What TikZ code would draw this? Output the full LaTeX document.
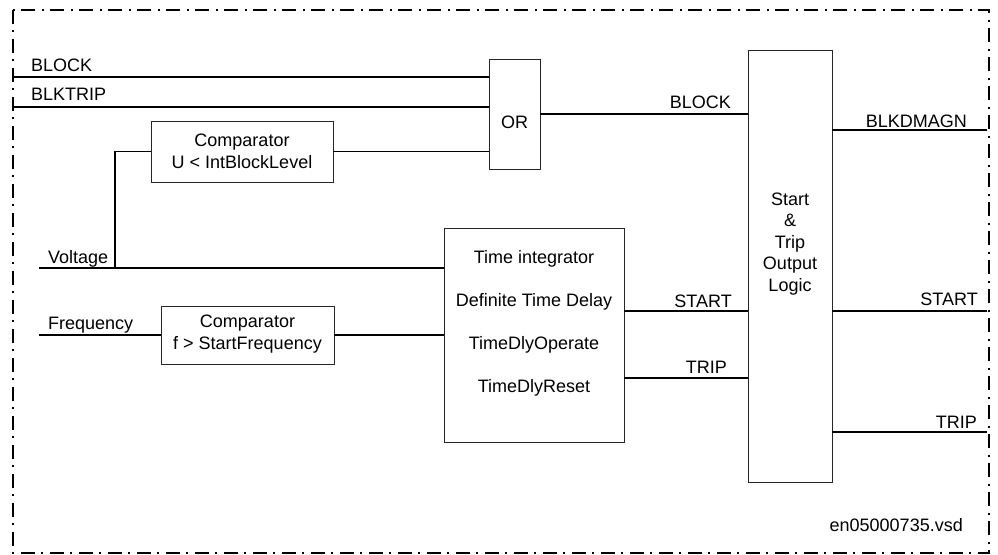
\documentclass[tikz,border=0pt]{standalone}
\usepackage{fontspec}
\setmainfont{Liberation Sans}
\usetikzlibrary{positioning}

\begin{document}
\begin{tikzpicture}[x=1pt, y=-1pt,
    every node/.style={font=\fontsize{18}{22}\selectfont, inner sep=0pt},
    blockbox/.style={draw=black!85, line width=0.9pt},
    signal/.style={line width=1.4pt},
    frameline/.style={line width=2.5pt, dash pattern=on 14pt off 6pt on 2pt off 7pt}]
    \useasboundingbox (0,0) rectangle (998,554);

    % Frame
    \draw[frameline] (13,10) rectangle (989,553);

    % Blocks
    \node[blockbox, minimum width=51pt, minimum height=110pt] (or) at (514.5,114) {};
    \node[blockbox, minimum width=182pt, minimum height=61pt] (cmpu) at (242,151.5) {};
    \node[blockbox, minimum width=173pt, minimum height=58pt] (cmpf) at (247.5,335) {};
    \node[blockbox, minimum width=180pt, minimum height=214pt] (tint) at (534,335) {};
    \node[blockbox, minimum width=84pt, minimum height=432pt] (logic) at (790,266) {};

    % Block texts
    \node (ortxt) at (514.5,122) {OR};
    \node[align=center] (cmputxt) at (242,151.5) {Comparator\\U < IntBlockLevel};
    \node[align=center] (cmpftxt) at (247.5,334) {Comparator\\f > StartFrequency};
    \node[align=center, font=\fontsize{18}{43}\selectfont] (tinttxt) at (534,323.5)
        {Time integrator\\Definite Time Delay\\TimeDlyOperate\\TimeDlyReset};
    \node[align=center, font=\fontsize{18}{21.5}\selectfont] (logictxt) at (790,244)
        {Start\\\&\\Trip\\Output\\Logic};

    % Signal levels
    \coordinate (blkin) at (13,77);
    \coordinate (trpin) at (13,107);
    \coordinate (uin) at (39,268);
    \coordinate (fin) at (39,335);
    \coordinate (ujoin) at (115,268);
    \coordinate (blkout) at (987,130);
    \coordinate (startout) at (987,311);
    \coordinate (tripmid) at (0,378);
    \coordinate (tripout) at (987,432);

    % Inputs
    \draw[signal] (blkin) -- (blkin -| or.west);
    \draw[signal] (trpin) -- (trpin -| or.west);
    \draw[signal] (cmpu.east) -- (cmpu.east -| or.west);
    \draw[signal] (cmpu.west) -| (ujoin);
    \draw[signal] (uin) -- (uin -| tint.west);
    \draw[signal] (fin) -- (cmpf.west);
    \draw[signal] (cmpf.east) -- (cmpf.east -| tint.west);

    % Internal
    \draw[signal] (or.east) -- (or.east -| logic.west);
    \draw[signal] (startout -| tint.east) -- (startout -| logic.west);
    \draw[signal] (tripmid -| tint.east) -- (tripmid -| logic.west);

    % Outputs
    \draw[signal] (blkout -| logic.east) -- (blkout);
    \draw[signal] (startout -| logic.east) -- (startout);
    \draw[signal] (tripout -| logic.east) -- (tripout);

    % Signal names
    \node[anchor=base west] (lblblk) at (31,71) {BLOCK};
    \node[anchor=base west] (lbltrp) at (31,100) {BLKTRIP};
    \node[anchor=base west] (lblu) at (48,263) {Voltage};
    \node[anchor=base west] (lblf) at (48,329) {Frequency};
    \node[anchor=base east] (lblorblk) at (731,108) {BLOCK};
    \node[anchor=base east] (lblstart) at (732,307) {START};
    \node[anchor=base east] (lbltrip) at (727,373) {TRIP};
    \node[anchor=base east] (lbldmagn) at (967,127) {BLKDMAGN};
    \node[anchor=base east] (lblstartout) at (978,305) {START};
    \node[anchor=base east] (lbltripout) at (977,428) {TRIP};
    \node[anchor=base east] (fname) at (963,531) {en05000735.vsd};
\end{tikzpicture}
\end{document}
